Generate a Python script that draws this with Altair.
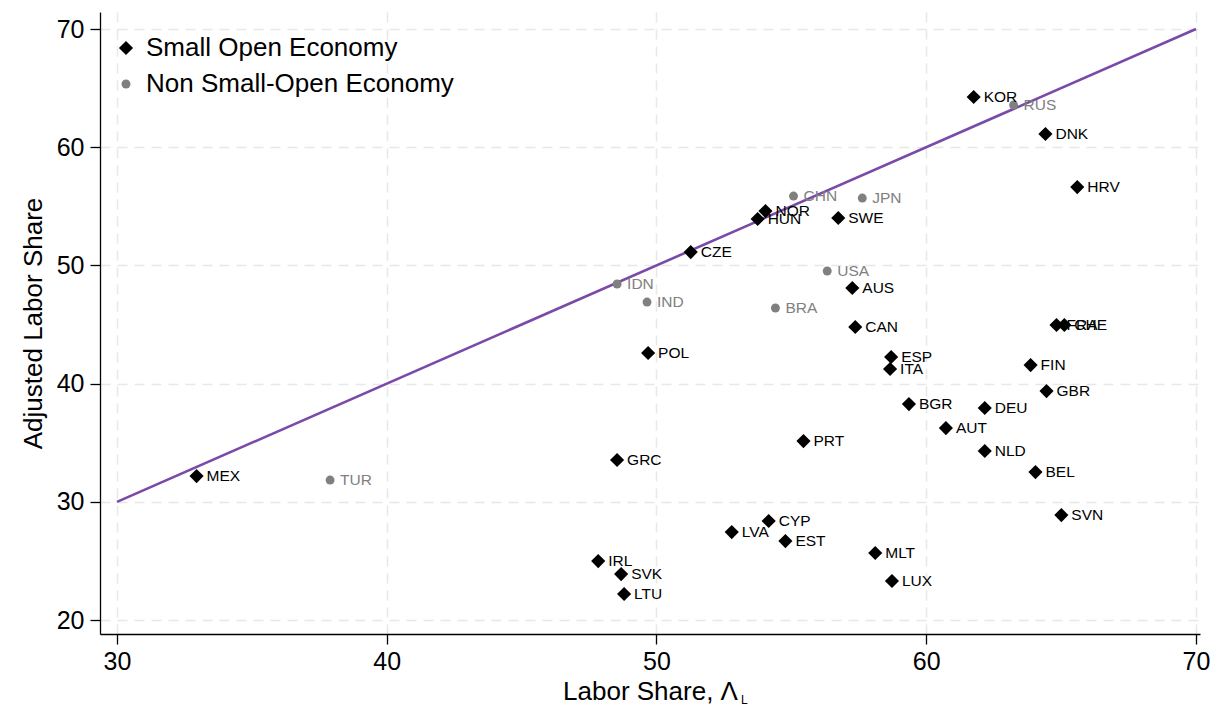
import altair as alt
import pandas as pd

countries = ["MEX","TUR","GRC","IRL","SVK","LTU","IDN","IND","POL","CZE","HUN","NOR","CHN","BRA","USA","SWE","JPN","AUS","CAN","ESP","ITA","BGR","PRT","AUT","DEU","NLD","BEL","SVN","FIN","GBR","FRA","CHE","HRV","DNK","KOR","RUS","LVA","CYP","EST","MLT","LUX"]
labor_share = [32.95,37.90,48.54,47.84,48.69,48.80,48.54,49.65,49.69,51.27,53.75,54.04,55.08,54.41,56.33,56.74,57.63,57.26,57.37,58.70,58.66,59.36,55.45,60.73,62.17,62.17,64.05,65.01,63.87,64.46,64.83,65.12,65.60,64.42,61.76,63.24,52.79,54.16,54.78,58.11,58.73]
adj_share = [32.18,31.84,33.54,24.99,23.89,22.20,48.43,46.90,42.59,51.13,53.93,54.60,55.87,46.40,49.53,54.01,55.70,48.09,44.79,42.25,41.24,38.27,35.14,36.24,37.94,34.30,32.52,28.88,41.57,39.37,44.96,44.96,56.63,61.12,64.25,63.57,27.44,28.38,26.68,25.67,23.30]
non_soe = {"TUR","IDN","IND","CHN","BRA","USA","JPN","RUS"}
groups = ["Non Small-Open Economy" if c in non_soe else "Small Open Economy" for c in countries]

line_x = [30, 70]
line_y = [30, 70]

df = pd.DataFrame({"country": countries, "ls": labor_share, "adj": adj_share, "group": groups})
line_df = pd.DataFrame({"ls": line_x, "adj": line_y})

FONT = "Liberation Sans"
xscale = alt.Scale(domain=[29.37, 70.15], nice=False, zero=False)
yscale = alt.Scale(domain=[18.82, 71.44], nice=False, zero=False)
group_domain = ["Small Open Economy", "Non Small-Open Economy"]

xaxis = alt.Axis(values=[30, 40, 50, 60, 70], title="Labor Share, Λ", titleFontSize=26,
                 titleFontWeight="normal", labelFontSize=25, titleFont=FONT, labelFont=FONT,
                 labelColor="black", titleColor="black", domainColor="black", domainWidth=1.3,
                 tickColor="black", tickSize=10, tickWidth=1.3, labelPadding=5, titlePadding=4,
                 gridColor="#e8e8e8", gridDash=[10, 7], gridWidth=1.5)
yaxis = alt.Axis(values=[20, 30, 40, 50, 60, 70], title="Adjusted Labor Share", titleFontSize=26,
                 titleFontWeight="normal", labelFontSize=25, titleFont=FONT, labelFont=FONT,
                 labelColor="black", titleColor="black", domainColor="black", domainWidth=1.3,
                 tickColor="black", tickSize=10, tickWidth=1.3, labelPadding=6, titlePadding=10,
                 gridColor="#e8e8e8", gridDash=[10, 7], gridWidth=1.5)

leg = alt.Legend(title=None, orient="none", legendX=13, legendY=23, padding=0,
                 labelFontSize=26, labelFont=FONT, labelColor="black", labelLimit=0,
                 rowPadding=10, symbolStrokeWidth=0, labelOffset=7)

line = alt.Chart(line_df).mark_line(color="#7a4aa8", strokeWidth=2.6, clip=True).encode(
    x=alt.X("ls:Q", scale=xscale, axis=xaxis),
    y=alt.Y("adj:Q", scale=yscale, axis=yaxis),
)

points = alt.Chart(df).mark_point(filled=True, opacity=1).encode(
    x=alt.X("ls:Q", scale=xscale),
    y=alt.Y("adj:Q", scale=yscale),
    shape=alt.Shape("group:N", scale=alt.Scale(domain=group_domain, range=["diamond", "circle"]), legend=leg),
    color=alt.Color("group:N", scale=alt.Scale(domain=group_domain, range=["black", "#808080"]), legend=leg),
    size=alt.Size("group:N", scale=alt.Scale(domain=group_domain, range=[200, 80]), legend=leg),
)

labels = alt.Chart(df).mark_text(align="left", baseline="middle", dx=10, fontSize=15.5, font=FONT).encode(
    x=alt.X("ls:Q", scale=xscale),
    y=alt.Y("adj:Q", scale=yscale),
    text="country:N",
    color=alt.Color("group:N", scale=alt.Scale(domain=group_domain, range=["black", "#808080"]), legend=None),
)

sub = alt.Chart(pd.DataFrame({"t": ["L"]})).mark_text(
    align="left", baseline="bottom", fontSize=12, font=FONT, color="black"
).encode(x=alt.value(641), y=alt.value(695), text="t:N")

chart = alt.layer(line, points, labels, sub).properties(
    width=1100, height=622,
    autosize=alt.AutoSizeParams(type="none"),
    padding={"left": 92, "top": 4, "right": 12, "bottom": 73},
).configure_view(stroke=None)

chart.save("out.html", embed_options={"renderer": "svg", "actions": False})
